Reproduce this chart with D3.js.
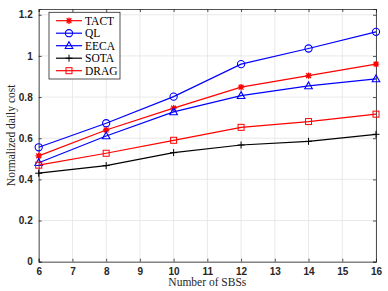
<!DOCTYPE html>
<html>
<head>
<meta charset="utf-8">
<script src="https://cdn.jsdelivr.net/npm/d3@7"></script>
<style>
  html, body { margin: 0; padding: 0; background: #fff; }
  svg { display: block; }
  .tick text { font-family: "Liberation Sans", Arial, sans-serif; font-size: 10px; font-weight: bold; fill: #262626; }
</style>
</head>
<body>
<div id="chart"></div>
<script>
// data
const sbs = [6, 8, 10, 12, 14, 16];
const tact = [0.514, 0.640, 0.746, 0.848, 0.904, 0.960];
const ql   = [0.556, 0.673, 0.802, 0.960, 1.036, 1.117];
const eeca = [0.481, 0.611, 0.728, 0.807, 0.854, 0.888];
const sota = [0.430, 0.467, 0.530, 0.567, 0.585, 0.619];
const drag = [0.469, 0.527, 0.590, 0.653, 0.681, 0.717];
const xTicks = [6, 7, 8, 9, 10, 11, 12, 13, 14, 15, 16];
const yTicks = [0, 0.2, 0.4, 0.6, 0.8, 1, 1.2];

const series = [
  { name: "TACT", values: tact, color: "#ff0000", marker: "star" },
  { name: "QL", values: ql, color: "#0000ff", marker: "circle" },
  { name: "EECA", values: eeca, color: "#0000ff", marker: "triangle" },
  { name: "SOTA", values: sota, color: "#000000", marker: "plus" },
  { name: "DRAG", values: drag, color: "#ff0000", marker: "square" }
];

const width = 388, height = 291;
const margin = { top: 9, right: 12, bottom: 29.3, left: 38.7 };
const iw = width - margin.left - margin.right;
const ih = height - margin.top - margin.bottom;

const svg = d3.select("#chart").append("svg")
  .attr("width", width)
  .attr("height", height);

const g = svg.append("g").attr("transform", `translate(${margin.left},${margin.top})`);

const x = d3.scaleLinear().domain([6, 16]).range([0, iw]);
const y = d3.scaleLinear().domain([0, 1.228]).range([ih, 0]);

// grid
g.append("g").selectAll("line").data(xTicks).join("line")
  .attr("x1", d => x(d)).attr("x2", d => x(d))
  .attr("y1", 0).attr("y2", ih)
  .attr("stroke", "#e3e3e3").attr("stroke-width", 0.8);
g.append("g").selectAll("line").data(yTicks).join("line")
  .attr("x1", 0).attr("x2", iw)
  .attr("y1", d => y(d)).attr("y2", d => y(d))
  .attr("stroke", "#e3e3e3").attr("stroke-width", 0.8);

// axes with inward ticks
const xAxis = g.append("g").attr("transform", `translate(0,${ih})`)
  .call(d3.axisBottom(x).tickValues(xTicks).tickSize(-3).tickPadding(6).tickFormat(d3.format("d")));
const yAxis = g.append("g")
  .call(d3.axisLeft(y).tickValues(yTicks).tickSize(-3).tickPadding(6).tickFormat(d => d === 0 || d === 1 ? d : d3.format(".1f")(d)));
const xTop = g.append("g")
  .call(d3.axisTop(x).tickValues(xTicks).tickSize(-3).tickFormat(""));
const yRight = g.append("g").attr("transform", `translate(${iw},0)`)
  .call(d3.axisRight(y).tickValues(yTicks).tickSize(-3).tickFormat(""));
[xAxis, yAxis, xTop, yRight].forEach(a => {
  a.select(".domain").attr("stroke", "#262626").attr("stroke-width", 0.8);
  a.selectAll(".tick line").attr("stroke", "#262626").attr("stroke-width", 0.8);
});

function drawMarker(sel, type, color) {
  if (type === "circle") {
    sel.append("circle").attr("r", 3.6).attr("fill", "none").attr("stroke", color).attr("stroke-width", 1.1);
  } else if (type === "square") {
    sel.append("rect").attr("x", -3).attr("y", -3).attr("width", 6).attr("height", 6)
      .attr("fill", "none").attr("stroke", color).attr("stroke-width", 1);
  } else if (type === "triangle") {
    sel.append("path").attr("d", "M0,-4L3.8,2.8L-3.8,2.8Z")
      .attr("fill", "none").attr("stroke", color).attr("stroke-width", 1.1);
  } else if (type === "plus") {
    sel.append("path").attr("d", "M-3.5,0H3.5M0,-3.5V3.5").attr("stroke", color).attr("stroke-width", 1);
  } else if (type === "star") {
    sel.append("path").attr("d", "M-3.2,0H3.2M0,-3.2V3.2M-2.4,-2.4L2.4,2.4M-2.4,2.4L2.4,-2.4")
      .attr("stroke", color).attr("stroke-width", 1.3);
    sel.append("circle").attr("r", 1.6).attr("fill", color);
  }
}

const line = d3.line().x((d, i) => x(sbs[i])).y(d => y(d));

series.forEach(s => {
  g.append("path").datum(s.values)
    .attr("d", line)
    .attr("fill", "none")
    .attr("stroke", s.color)
    .attr("stroke-width", 1.2);
  s.values.forEach((v, i) => {
    const m = g.append("g").attr("transform", `translate(${x(sbs[i])},${y(v)})`);
    drawMarker(m, s.marker, s.color);
  });
});

// legend
const lg = svg.append("g").attr("transform", "translate(49,12.3)");
lg.append("rect").attr("width", 71).attr("height", 66.7)
  .attr("fill", "#fff").attr("stroke", "#262626").attr("stroke-width", 0.8);
series.forEach((s, i) => {
  const ly = 8.4 + i * 12.5;
  lg.append("line").attr("x1", 7).attr("x2", 33).attr("y1", ly).attr("y2", ly)
    .attr("stroke", s.color).attr("stroke-width", 1.2);
  drawMarker(lg.append("g").attr("transform", `translate(20,${ly})`), s.marker, s.color);
  lg.append("text").attr("x", 36).attr("y", ly).attr("dy", "0.35em")
    .style("font-family", "'Liberation Serif', 'DejaVu Serif', serif")
    .style("font-size", "11.5px").attr("fill", "#000")
    .text(s.name);
});

// axis labels
svg.append("text")
  .attr("x", margin.left + iw / 2).attr("y", 286)
  .attr("text-anchor", "middle")
  .style("font-family", "'Liberation Serif', serif").style("font-size", "11.5px")
  .attr("fill", "#262626")
  .text("Number of SBSs");
svg.append("text")
  .attr("transform", `translate(15,${margin.top + ih / 2}) rotate(-90)`)
  .attr("text-anchor", "middle")
  .style("font-family", "'Liberation Serif', serif").style("font-size", "11.5px")
  .attr("fill", "#262626")
  .text("Normalized daily cost");
</script>
</body>
</html>
